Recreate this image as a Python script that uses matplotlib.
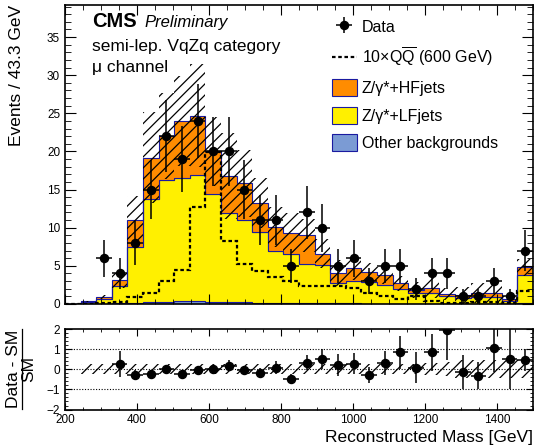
import numpy as np
import matplotlib
matplotlib.use("Agg")
from matplotlib import pyplot as plt
from matplotlib.patches import Patch
from matplotlib.lines import Line2D
from matplotlib.ticker import MultipleLocator

plt.rcParams['font.family'] = ['Liberation Sans', 'DejaVu Sans']
plt.rcParams['mathtext.fontset'] = 'custom'
plt.rcParams['mathtext.rm'] = 'Liberation Sans'
plt.rcParams['mathtext.it'] = 'Liberation Sans:italic'
plt.rcParams['mathtext.bf'] = 'Liberation Sans:bold'
plt.rcParams['hatch.linewidth'] = 0.9

# 30 bins of 43.3 GeV between 200 and 1500 GeV
edges = np.linspace(200, 1500, 31)

# stacked backgrounds (events per bin)
other_bkg = [0, 0.05, 0.05, 0.1, 0.15, 0.25, 0.3, 0.35, 0.35, 0.3, 0.25, 0.2, 0.15, 0.15, 0.1,
             0.1, 0.1, 0.08, 0.08, 0.05, 0.05, 0.05, 0.05, 0.05, 0.03, 0.03, 0.03, 0.03, 0.02, 0.1]
z_lf = [0, 0.25, 0.55, 2.2, 7.35, 13.45, 15.95, 16.15, 16.55, 14.1, 11.65, 10.8, 9.25, 6.8, 6.5,
        5.1, 5.0, 2.62, 2.92, 2.85, 2.5, 1.95, 1.45, 1.45, 1.02, 0.72, 0.92, 0.92, 0.38, 3.7]
z_hf = [0, 0.05, 0.3, 0.8, 3.5, 5.5, 5.75, 7.5, 7.8, 5.6, 4.9, 4.8, 3.8, 3.15, 2.7,
        3.8, 1.5, 1.4, 1.7, 1.3, 1.2, 0.7, 0.35, 0.65, 0.3, 0.4, 0.5, 0.5, 0.25, 1.0]
# uncertainty on the total SM prediction
mc_err = [0, 0.1, 0.25, 1.0, 3.1, 6.0, 5.6, 5.9, 6.7, 4.5, 5.6, 4.4, 3.3, 2.6, 2.6,
          2.2, 1.9, 1.7, 1.5, 1.2, 1.1, 1.0, 1.0, 1.3, 0.8, 1.1, 1.3, 1.3, 0.4, 1.1]
ratio_err = [0, 0.25, 0.25, 0.25, 0.25, 0.25, 0.25, 0.25, 0.25, 0.25, 0.25, 0.25, 0.25, 0.25, 0.25,
             0.25, 0.25, 0.25, 0.25, 0.25, 0.25, 0.25, 0.25, 0.3, 0.35, 0.45, 0.45, 0.45, 0.45, 0.45]
# 10 x Q Qbar signal, 600 GeV
signal = [0, 0, 0.1, 0.3, 0.96, 1.5, 3.0, 4.45, 12.7, 19.9, 8.2, 5.2, 4.3, 3.6, 3.0,
          2.3, 2.3, 2.3, 2.05, 1.4, 1.1, 0.65, 1.0, 0.43, 0.1, 0.1, 0.2, 0.2, 0.1, 1.75]
data = [0, 0, 6, 4, 8, 15, 22, 19, 24, 20, 20, 15, 11, 11, 5,
        12, 10, 5, 6, 3, 5, 5, 2, 4, 4, 1, 1, 3, 1, 7]

c_other = '#7b9bd4'
c_lf = '#fff000'
c_hf = '#ff8c00'
c_line = '#1a1aa0'

other_bkg = np.array(other_bkg)
z_lf = np.array(z_lf)
z_hf = np.array(z_hf)
mc_err = np.array(mc_err)
ratio_err = np.array(ratio_err)
data = np.array(data, dtype=float)
centers = 0.5 * (edges[1:] + edges[:-1])
half = 0.5 * np.diff(edges)

lvl1 = other_bkg
lvl2 = lvl1 + z_lf
total = lvl2 + z_hf

fig = plt.figure(figsize=(5.35, 4.46), dpi=100)
ax = fig.add_axes([0.1215, 0.3184, 0.8748, 0.6704])
rax = fig.add_axes([0.1215, 0.0818, 0.8748, 0.1798])

# stack
ax.stairs(lvl1, edges, baseline=0, fill=True, facecolor=c_other, edgecolor=c_line, lw=0.8, zorder=1)
ax.stairs(lvl2, edges, baseline=lvl1, fill=True, facecolor=c_lf, edgecolor=c_line, lw=0.8, zorder=1)
ax.stairs(total, edges, baseline=lvl2, fill=True, facecolor=c_hf, edgecolor=c_line, lw=0.8, zorder=1)
# uncertainty band
ax.stairs(total + mc_err, edges, baseline=total - mc_err, fill=True, facecolor='none',
          edgecolor='black', hatch='///', lw=0, zorder=2)
# signal
ax.stairs(signal, edges, baseline=None, color='black', lw=1.6, ls=(0, (1.6, 1.2)), zorder=3)
# data
m = data > 0
h_data = ax.errorbar(centers[m], data[m], xerr=half[m], yerr=np.sqrt(data[m]), fmt='o',
                     color='black', ms=5.8, lw=1.1, capsize=0, zorder=4)

ax.set_xlim(200, 1500)
ax.set_ylim(0, 39.2)
ax.xaxis.set_major_locator(MultipleLocator(200))
ax.xaxis.set_minor_locator(MultipleLocator(50))
ax.yaxis.set_major_locator(MultipleLocator(5))
ax.yaxis.set_minor_locator(MultipleLocator(1))
ax.tick_params(which='both', direction='in', top=True, right=True, labelsize=8.5, pad=3.5)
ax.tick_params(axis='y', which='major', length=8)
ax.tick_params(axis='y', which='minor', length=4)
ax.tick_params(axis='x', which='major', length=7)
ax.tick_params(axis='x', which='minor', length=3.5)
ax.tick_params(axis='x', labelbottom=False)
for s in ax.spines.values():
    s.set_linewidth(1.2)

# texts
ax.text(0.0577, 0.926, 'CMS', transform=ax.transAxes, fontsize=14.5, fontweight='bold', va='baseline')
ax.text(0.169, 0.926, 'Preliminary', transform=ax.transAxes, fontsize=12, style='italic', va='baseline')
ax.text(0.0577, 0.846, 'semi-lep. VqZq category', transform=ax.transAxes, fontsize=12.5, va='baseline')
ax.text(0.0577, 0.776, 'μ channel', transform=ax.transAxes, fontsize=12.5, va='baseline')

h_sig = Line2D([], [], color='black', lw=1.6, ls=(0, (1.6, 1.2)))
p_hf = Patch(facecolor=c_hf, edgecolor=c_line, lw=0.8)
p_lf = Patch(facecolor=c_lf, edgecolor=c_line, lw=0.8)
p_oth = Patch(facecolor=c_other, edgecolor=c_line, lw=0.8)
labels = ['Data', '10×Q$\\overline{\\mathrm{Q}}$ (600 GeV)', 'Z/γ*+HFjets', 'Z/γ*+LFjets',
          'Other backgrounds']
ax.legend([h_data, h_sig, p_hf, p_lf, p_oth], labels, loc='upper left',
          bbox_to_anchor=(0.5705, 0.955), frameon=False, fontsize=11.5, handlelength=1.56,
          handleheight=1.25, handletextpad=0.3, labelspacing=0.66, borderpad=0, borderaxespad=0)

fig.text(16.5 / 535, 1 - 5 / 446, 'Events / 43.3 GeV', rotation=90, ha='center', va='top', fontsize=12.5)

# ratio panel
valid = total > 0
ratio = np.full_like(total, np.nan)
ratio[valid] = data[valid] / total[valid] - 1
rerr = np.zeros_like(total)
rerr[valid] = np.sqrt(data[valid]) / total[valid]
show = valid & (data > 0) & (ratio <= 2.05)

rax.stairs(ratio_err, edges, baseline=-ratio_err, fill=True, facecolor='none',
           edgecolor='black', hatch='///', lw=0, zorder=2)
for yl in (-1, 0, 1):
    rax.axhline(yl, color='black', ls=(0, (1, 1.5)), lw=0.8, zorder=1)
rax.errorbar(centers[show], ratio[show], xerr=half[show], yerr=rerr[show], fmt='o',
             color='black', ms=5.8, lw=1.1, capsize=0, zorder=4)
rax.set_xlim(200, 1500)
rax.set_ylim(-2, 2)
rax.xaxis.set_major_locator(MultipleLocator(200))
rax.xaxis.set_minor_locator(MultipleLocator(50))
rax.yaxis.set_major_locator(MultipleLocator(1))
rax.yaxis.set_minor_locator(MultipleLocator(0.2))
rax.tick_params(which='both', direction='in', top=True, right=True, labelsize=8.5, pad=3.5)
rax.tick_params(which='major', length=5)
rax.tick_params(which='minor', length=2.5)
for s in rax.spines.values():
    s.set_linewidth(1.2)

fig.text(533 / 535, 1 - 442 / 446, 'Reconstructed Mass [GeV]', ha='right', va='baseline', fontsize=12.5)

# ratio axis title drawn as a fraction: "Data - SM" over "SM"
ymid = 1 - 369 / 446
fig.text(13.5 / 535, ymid, 'Data - SM', rotation=90, ha='center', va='center', fontsize=12.5)
fig.text(29 / 535, ymid, 'SM', rotation=90, ha='center', va='center', fontsize=12.5)
fig.add_artist(Line2D([21.8 / 535, 21.8 / 535], [ymid - 40 / 446, ymid + 40 / 446],
                      transform=fig.transFigure, color='black', lw=0.9))

fig.savefig('out.png', dpi=100)
